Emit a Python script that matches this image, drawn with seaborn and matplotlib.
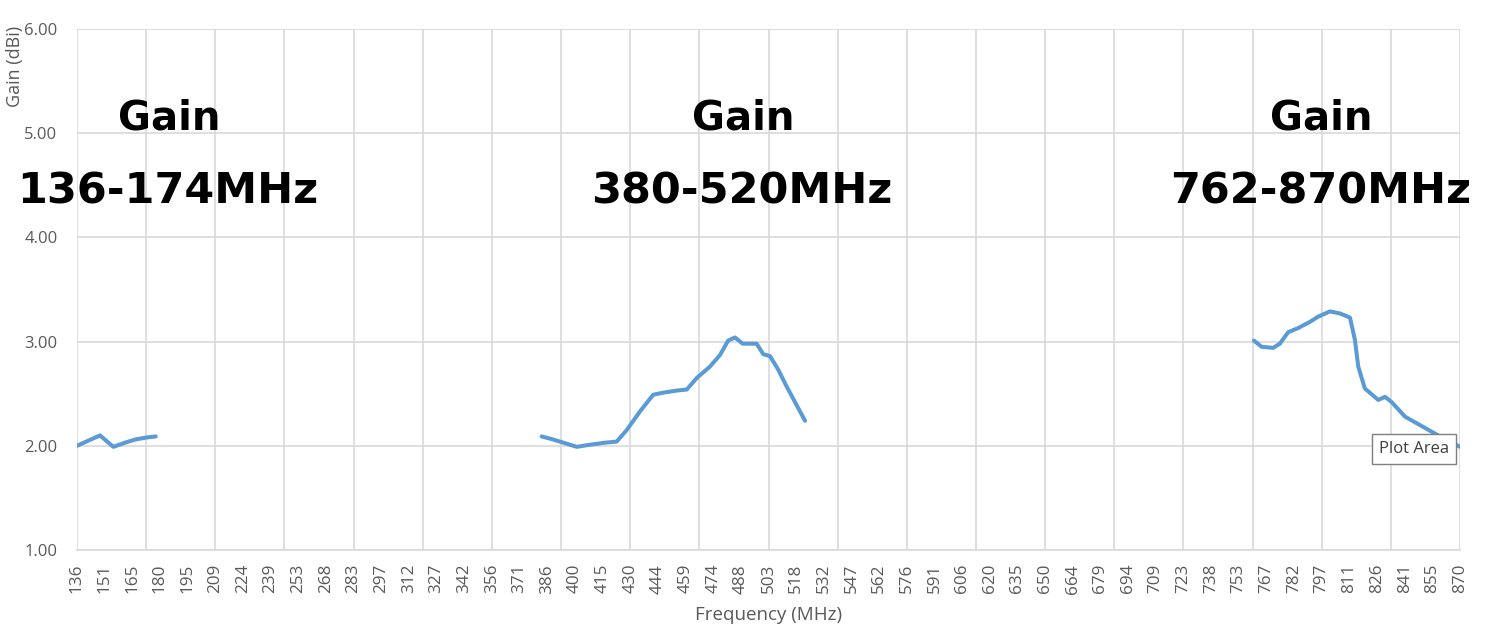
import numpy as np
import pandas as pd
import seaborn as sns
from matplotlib import pyplot as plt

# gain curves, one list pair per band
vhf_freq = [136.0, 148.2, 155.3, 161.5, 166.8, 173.0, 177.8]
vhf_gain = [2.00, 2.10, 1.99, 2.03, 2.06, 2.08, 2.09]

uhf_freq = [382.6, 388.8, 401.2, 408.2, 416.2, 422.4, 427.7, 434.8, 441.8, 447.1,
            454.3, 459.6, 464.9, 471.9, 477.2, 481.6, 485.2, 489.3, 496.7, 500.2,
            503.8, 508.2, 512.6, 522.4]
uhf_gain = [2.09, 2.06, 1.99, 2.01, 2.03, 2.04, 2.15, 2.33, 2.49, 2.51,
            2.53, 2.54, 2.65, 2.76, 2.87, 3.01, 3.04, 2.98, 2.98, 2.88,
            2.86, 2.73, 2.57, 2.24]

b800_freq = [760.6, 764.7, 770.9, 774.4, 778.8, 784.1, 790.4, 794.8, 801.0, 806.3,
             811.6, 814.2, 816.0, 819.5, 826.6, 830.2, 833.7, 840.8, 849.6, 859.4,
             870.0]
b800_gain = [3.01, 2.95, 2.94, 2.98, 3.09, 3.13, 3.19, 3.24, 3.29, 3.27,
             3.23, 3.02, 2.76, 2.55, 2.44, 2.47, 2.42, 2.28, 2.19, 2.09,
             1.99]

band_titles = ["136-174MHz", "380-520MHz", "762-870MHz"]

tick_labels = ["136", "151", "165", "180", "195", "209", "224", "239", "253", "268",
               "283", "297", "312", "327", "342", "356", "371", "386", "400", "415",
               "430", "444", "459", "474", "488", "503", "518", "532", "547", "562",
               "576", "591", "606", "620", "635", "650", "664", "679", "694", "709",
               "723", "738", "753", "767", "782", "797", "811", "826", "841", "855",
               "870"]
y_ticks = [1, 2, 3, 4, 5, 6]

df = pd.concat([
    pd.DataFrame({"freq": vhf_freq, "gain": vhf_gain, "band": band_titles[0]}),
    pd.DataFrame({"freq": uhf_freq, "gain": uhf_gain, "band": band_titles[1]}),
    pd.DataFrame({"freq": b800_freq, "gain": b800_gain, "band": band_titles[2]}),
], ignore_index=True)

sns.set_theme(style="white")
plt.rcParams['font.family'] = ['Open Sans', 'DejaVu Sans']

fig = plt.figure(figsize=(15.04, 6.28), dpi=100)
ax = fig.add_axes([77 / 1504, 1 - 550 / 628, (1460 - 77) / 1504, (550 - 29) / 628])

grid_col = '#d9d9d9'
text_col = '#595959'

# vertical gridlines every 5th category (Excel style)
for gx in np.linspace(136, 870, 21):
    ax.axvline(gx, color=grid_col, linewidth=1.2, zorder=0)

sns.lineplot(data=df, x="freq", y="gain", units="band", estimator=None,
             color='#5b9bd5', linewidth=2.9, ax=ax, sort=False, zorder=3)

ax.set_xlim(136, 870)
ax.set_ylim(1, 6)
ax.set_xticks(np.linspace(136, 870, len(tick_labels)))
ax.set_xticklabels(tick_labels, rotation=90, fontsize=12.3, color=text_col)
ax.set_yticks(y_ticks)
ax.set_yticklabels([f"{v:.2f}" for v in y_ticks], fontsize=12, color=text_col)
ax.tick_params(axis='both', which='both', length=0)
ax.tick_params(axis='x', pad=10)
ax.tick_params(axis='y', pad=14)
ax.grid(True, which='major', axis='y', color=grid_col, linewidth=1.2)
ax.grid(False, which='major', axis='x')
for side in ['top', 'right', 'left']:
    ax.spines[side].set_visible(False)
ax.spines['bottom'].set_color(grid_col)
ax.spines['bottom'].set_linewidth(1.2)
ax.set_xlabel("Frequency (MHz)", fontsize=13.5, color=text_col, labelpad=9)
ax.set_ylabel("")

fig.text(15 / 1504, 1 - 66 / 628, "Gain (dBi)", rotation=90, ha='center', va='center',
         fontsize=13, color=text_col)

# big band captions
title_pos = [(169, 168), (743, 742), (1321, 1321)]
for (gx, rx), title in zip(title_pos, band_titles):
    fig.text(gx / 1504, 1 - 119 / 628, "Gain", ha='center', va='center',
             fontsize=29, fontweight='heavy', family='DejaVu Sans', color='black')
    fig.text(rx / 1504, 1 - 191 / 628, title, ha='center', va='center',
             fontsize=31, fontweight='heavy', family='DejaVu Sans', color='black')

# hover tooltip left in the screenshot
fig.text(1414 / 1504, 1 - 449 / 628, "Plot Area", ha='center', va='center',
         fontsize=12, color='#404040', zorder=10,
         bbox=dict(boxstyle='square,pad=0.4', facecolor='white', edgecolor='#7f7f7f',
                   linewidth=1))

fig.savefig('out.png', dpi=100)
